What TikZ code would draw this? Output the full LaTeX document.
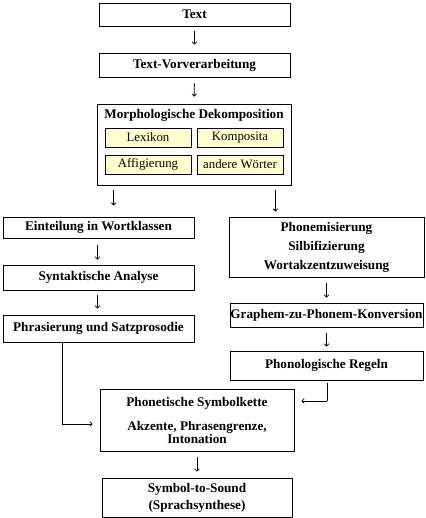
\documentclass[tikz,border=0pt]{standalone}
\usepackage{fontspec}
\setmainfont{Liberation Serif}
\usetikzlibrary{arrows.meta,calc}
\definecolor{boxyellow}{HTML}{FFFFCC}
\begin{document}
\begin{tikzpicture}[x=1pt,y=-1pt,
  box/.style={draw,line width=0.9pt,rectangle,inner sep=0pt,align=center,
    font=\fontsize{13.2}{15}\selectfont\bfseries},
  subbox/.style={draw,line width=0.9pt,rectangle,inner sep=0pt,fill=boxyellow,
    minimum width=86pt,minimum height=19pt,font=\fontsize{12.8}{15}\selectfont},
  arr/.style={line width=0.8pt,-{To[length=3pt,width=5pt]}},
  ln/.style={line width=0.8pt}]
\useasboundingbox (0,0) rectangle (425,518);
% top chain
\node[box,minimum width=191pt,minimum height=23pt] (text) at (194.5,14.5) {Text};
\node[box,minimum width=191pt,minimum height=24pt] (vor) at (194.5,65) {Text-Vorverarbeitung};
\node[box,minimum width=194pt,minimum height=81pt] (morph) at (194,144.5) {};
\node[font=\fontsize{13.2}{15}\selectfont\bfseries,inner sep=0pt] (mtitle) at (194,115) {Morphologische Dekomposition};
\node[subbox] (lex) at (148,137.5) {Lexikon};
\node[subbox] (komp) at (240,137.5) {Komposita};
\node[subbox] (aff) at (148,164.5) {Affigierung};
\node[subbox] (and) at (240,164.5) {andere Wörter};
% left column
\node[box,minimum width=191pt,minimum height=21pt] (eint) at (98.5,227.5) {Einteilung in Wortklassen};
\node[box,minimum width=191pt,minimum height=25pt] (syn) at (98.5,277.5) {Syntaktische Analyse};
\node[box,minimum width=191pt,minimum height=27pt] (phr) at (98.5,328.5) {Phrasierung und Satzprosodie};
% right column
\node[box,minimum width=195pt,minimum height=60pt,font=\fontsize{13.2}{19}\selectfont\bfseries] (phon) at (326.5,247) {Phonemisierung\\Silbifizierung\\Wortakzentzuweisung};
\node[box,minimum width=193pt,minimum height=24pt] (graph) at (326.5,315) {Graphem-zu-Phonem-Konversion};
\node[box,minimum width=193pt,minimum height=29pt] (regeln) at (326.5,365.5) {Phonologische Regeln};
% bottom
\node[box,minimum width=194pt,minimum height=62pt,font=\fontsize{13.2}{13}\selectfont\bfseries] (phonet) at (197,420) {Phonetische Symbolkette\\[11pt]Akzente, Phrasengrenze,\\Intonation};
\node[box,minimum width=190pt,minimum height=39pt,font=\fontsize{13.2}{17}\selectfont\bfseries] (sound) at (197,497.5) {Symbol-to-Sound\\(Sprachsynthese)};
% connectors
\draw[arr,shorten <=5pt,shorten >=8pt] (text.south) -- (vor.north);
\draw[arr,shorten <=6pt,shorten >=7pt] (vor.south) -- (morph.north);
\coordinate (ml) at ($(morph.south west)+(17,5)$);
\coordinate (mr) at ($(morph.south east)+(-16,5)$);
\draw[arr] (ml) -- ++(0,15);
\draw[arr] (mr) -- ++(0,21);
\draw[arr,shorten <=7pt,shorten >=5pt] ($(eint.south)+(-1,0)$) -- ($(syn.north)+(-1,0)$);
\draw[arr,shorten <=5pt,shorten >=6pt] ($(syn.south)+(-1,0)$) -- ($(phr.north)+(-1,0)$);
\draw[arr,shorten <=6pt,shorten >=5pt] (phon.south) -- (graph.north);
\draw[arr,shorten <=6pt,shorten >=4pt] (graph.south) -- (regeln.north);
\draw[arr,shorten <=6pt,shorten >=6pt] (phonet.south) -- (sound.north);
\coordinate (pl) at (62,424);
\draw[ln] (phr.south -| pl) -- (pl);
\draw[arr,shorten >=7pt] (pl) -- (pl -| phonet.west);
\coordinate (pr) at (327,401);
\draw[ln] ($(regeln.south -| pr)+(0,3)$) -- (pr);
\draw[arr,shorten >=7pt] (pr) -- (pr -| phonet.east);
\end{tikzpicture}
\end{document}
